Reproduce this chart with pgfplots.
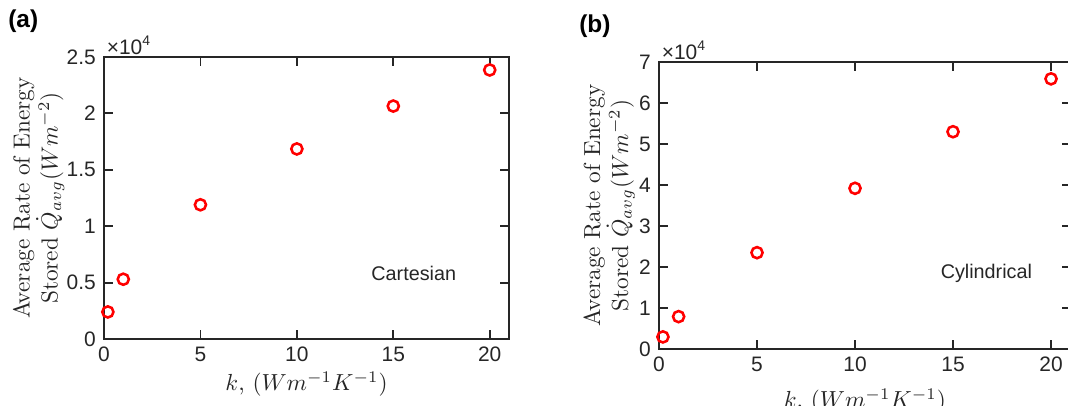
\documentclass[border=0pt]{standalone}
\usepackage{fontspec}
\usepackage{pgfplots}
\pgfplotsset{compat=1.18}
\newfontfamily\arial{Liberation Sans}
\definecolor{axgray}{HTML}{262626}

% data: k (W m^-1 K^-1), average rate of energy stored (W m^-2)
\pgfplotstableread{
k Q
0.2 2400
1 5300
5 11900
10 16850
15 20650
20 23850
}\cartesian
\pgfplotstableread{
k Q
0.2 2950
1 7900
5 23500
10 39200
15 53000
20 65900
}\cylindrical

\pgfplotsset{
  kplot/.style={
    scale only axis,
    axis line style={axgray, line width=0.8pt},
    every tick/.style={axgray, line width=0.8pt},
    major tick length=3.9pt,
    tick align=inside,
    xmin=0, xmax=21,
    xtick={0,5,10,15,20},
    ymin=0,
    tick label style={font=\arial\fontsize{9}{10}\selectfont, text=axgray},
    /pgf/number format/assume math mode=true,
    scaled y ticks=base 10:-4,
    ytick scale label code/.code={\arial\fontsize{9}{10}\selectfont ×10\textsuperscript{4}},
    every y tick scale label/.style={at={(rel axis cs:0,1)}, anchor=south west, inner sep=1pt, text=axgray},
    xlabel={$k$, $(Wm^{-1}K^{-1})$},
    xlabel style={at={(axis description cs:0.5,0)}, anchor=center, text=axgray},
    ylabel style={align=center, anchor=south, text=axgray},
    clip=false,
  },
  kmark/.style={only marks, mark=o, mark size=2.4pt, red, line width=1.1pt},
}

\begin{document}
\begin{tikzpicture}[x=1pt,y=1pt]
\path[use as bounding box] (0,0) rectangle (459.24pt,174.15pt);

\begin{axis}[kplot,
  at={(44.72pt,28.38pt)}, anchor=south west,
  width=174.15pt, height=121.26pt,
  ymax=25000, ytick={0,5000,10000,15000,20000,25000},
  ylabel={Average Rate of Energy\\Stored $\dot{Q}_{avg}(Wm^{-2})$},
  ylabel style={at={(axis description cs:-0.078,0.5)}},
  xlabel style={yshift=-19.5pt},
]
\addplot[kmark] table[x=k,y=Q] {\cartesian};
\node[font=\arial\fontsize{8.5}{10}\selectfont, text=axgray] at (axis cs:16.06,5850) {Cartesian};
\end{axis}

\begin{axis}[kplot,
  at={(283.37pt,24.08pt)}, anchor=south west,
  width=177pt, height=123.4pt,
  ymax=70000, ytick={0,10000,20000,30000,40000,50000,60000,70000},
  ylabel={Average Rate of Energy\\Stored $\dot{Q}_{avg}(Wm^{-2})$},
  ylabel style={at={(axis description cs:-0.039,0.5)}},
  xlabel style={yshift=-22.5pt},
]
\addplot[kmark] table[x=k,y=Q] {\cylindrical};
\node[font=\arial\fontsize{8.5}{10}\selectfont, text=axgray] at (axis cs:16.7,18500) {Cylindrical};
\end{axis}

\node[font=\arial\bfseries\fontsize{10.5}{12}\selectfont] at (10pt,165pt) {(a)};
\node[font=\arial\bfseries\fontsize{10.5}{12}\selectfont] at (255.8pt,163pt) {(b)};
\end{tikzpicture}
\end{document}
